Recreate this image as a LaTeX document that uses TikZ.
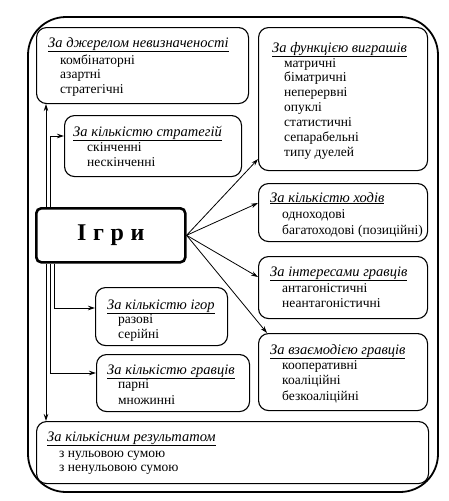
\documentclass[tikz,border=0pt]{standalone}
\usepackage{fontspec}
\setmainfont{Liberation Serif}
\usetikzlibrary{arrows.meta,calc}
\begin{document}
\begin{tikzpicture}[x=1pt,y=-1pt,
 box/.style={draw, fill=white, line width=1.1pt, rounded corners=10pt, anchor=north west, inner sep=0pt},
 hd/.style={anchor=base west, inner sep=0pt, font=\fontsize{14.5}{16}\selectfont\itshape},
 itm/.style={anchor=base west, inner sep=0pt, font=\fontsize{13.5}{15}\selectfont},
 arr/.style={line width=0.8pt, -{Stealth[length=7pt,width=4.5pt]}}]
\useasboundingbox (0,0) rectangle (449,501);
% outer frame
\draw[line width=1.8pt, rounded corners=38pt] (28,17) rectangle (438,492);
% boxes
\node[box, minimum width=212pt, minimum height=76pt] (b1) at (36,27) {};
\node[box, minimum width=177pt, minimum height=61pt] (b2) at (64,115) {};
\node[box, minimum width=169pt, minimum height=143pt] (b3) at (258,27) {};
\node[box, minimum width=169pt, minimum height=58pt] (b5) at (258,183) {};
\node[box, minimum width=169pt, minimum height=62pt] (b6) at (258,256) {};
\node[box, minimum width=169pt, minimum height=77pt] (b7) at (258,333) {};
\node[box, minimum width=132pt, minimum height=58pt] (b8) at (95,287) {};
\node[box, minimum width=153pt, minimum height=57pt] (b9) at (96,354) {};
\node[box, minimum width=392pt, minimum height=62pt] (b10) at (36,421) {};
\node[box, line width=2.6pt, rounded corners=5pt, minimum width=149pt, minimum height=54pt] (igry) at (35,207) {};
\node[inner sep=0pt, font=\fontsize{24}{26}\selectfont\bfseries] (igryt) at (igry.center) {І\hspace{0.28em}г\hspace{0.28em}р\hspace{0.28em}и};
% named coordinates for vertical lines
\coordinate (vA) at (46,0);
\coordinate (vB) at (50,0);
\coordinate (vC) at (54,0);
\coordinate (vD) at (50,0);
% left connectors
\draw[arr] (igry.north -| vA) -- (b1.south -| vA);
\draw[arr] (igry.south -| vA) -- (b10.north -| vA);
\draw[arr] (igry.north -| vB) |- ($(b2.north west)+(0,21)$);
\draw[arr] (igry.south -| vC) |- ($(b8.north west)+(0,21)$);
\draw[arr] (igry.south -| vD) |- ($(b9.north west)+(0,19)$);
% right connectors
\draw[arr] (igry.east) -- ($(b3.south west)+(0,-12)$);
\draw[arr] (igry.east) -- ($(b5.north west)+(0,20)$);
\draw[arr] (igry.east) -- ($(b6.north west)+(0,21)$);
\draw[arr] (igry.east) -- ($(b7.north west)+(9,0)$);
% texts box 1
\node[hd] (t1h) at (48,47) {\underline{За джерелом невизначеності}};
\node[itm] (t1a) at (60,64) {комбінаторні};
\node[itm] (t1b) at (60,78) {азартні};
\node[itm] (t1c) at (60,93) {стратегічні};
% box 2
\node[hd] (t2h) at (73,136) {\underline{За кількістю стратегій}};
\node[itm] (t2a) at (87,151) {скінченні};
\node[itm] (t2b) at (87,166) {нескінченні};
% box 3
\node[hd] (t3h) at (272,52) {\underline{За функцією виграшів}};
\node[itm] (t3a) at (284,67) {матричні};
\node[itm] (t3b) at (284,81) {біматричні};
\node[itm] (t3c) at (284,96) {неперервні};
\node[itm] (t3d) at (284,111) {опуклі};
\node[itm] (t3e) at (284,126) {статистичні};
\node[itm] (t3f) at (284,141) {сепарабельні};
\node[itm] (t3g) at (284,156) {типу дуелей};
% box 5
\node[hd] (t5h) at (270,202) {\underline{За кількістю ходів}};
\node[itm] (t5a) at (282,218) {одноходові};
\node[itm] (t5b) at (282,234) {багатоходові (позиційні)};
% box 6
\node[hd] (t6h) at (270,276) {\underline{За інтересами гравців}};
\node[itm] (t6a) at (282,292) {антагоністичні};
\node[itm] (t6b) at (282,307) {неантагоністичні};
% box 7
\node[hd] (t7h) at (270,354) {\underline{За взаємодією гравців}};
\node[itm] (t7a) at (282,369) {кооперативні};
\node[itm] (t7b) at (282,384) {коаліційні};
\node[itm] (t7c) at (282,400) {безкоаліційні};
% box 8
\node[hd] (t8h) at (107,309) {\underline{За кількістю ігор}};
\node[itm] (t8a) at (118,323) {разові};
\node[itm] (t8b) at (118,338) {серійні};
% box 9
\node[hd] (t9h) at (107,374) {\underline{За кількістю гравців}};
\node[itm] (t9a) at (118,388) {парні};
\node[itm] (t9b) at (118,404) {множинні};
% box 10
\node[hd] (t10h) at (47,441) {\underline{За кількісним результатом}};
\node[itm] (t10a) at (59,457) {з нульовою сумою};
\node[itm] (t10b) at (59,471) {з ненульовою сумою};
\end{tikzpicture}
\end{document}
